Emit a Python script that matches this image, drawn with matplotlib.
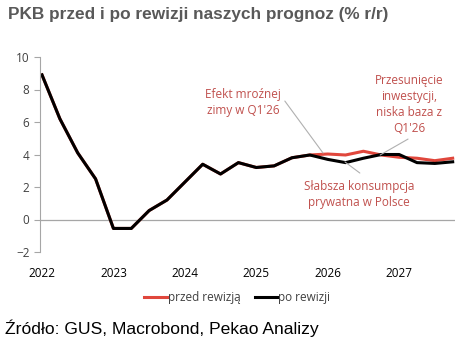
import matplotlib

matplotlib.use("Agg")
import matplotlib.pyplot as plt

# Quarterly GDP y/y, 2022Q1 .. 2027Q4
quarters = list(range(24))
year_labels = ["2022", "2023", "2024", "2025", "2026", "2027"]
po_rewizji = [8.9, 6.2, 4.1, 2.5, -0.55, -0.55, 0.55, 1.2, 2.3, 3.4, 2.8, 3.5,
              3.2, 3.3, 3.8, 3.97, 3.7, 3.5, 3.77, 4.0, 4.0, 3.5, 3.45, 3.55]
przed_rewizja = [8.9, 6.2, 4.1, 2.5, -0.55, -0.55, 0.55, 1.2, 2.3, 3.4, 2.8, 3.5,
                 3.2, 3.3, 3.8, 3.97, 4.03, 3.97, 4.2, 3.97, 3.83, 3.77, 3.62, 3.77]

RED = "#e0473c"
RED_TEXT = "#c0504d"
INK = "#404040"
AXIS = "#a6a6a6"
LEADER = "#b0b0b0"
LABEL_FONT = ["Open Sans", "DejaVu Sans"]

fig = plt.figure(figsize=(4.71, 3.5), dpi=100, facecolor="white")
ax = fig.add_axes([40 / 471, 98 / 350, 415 / 471, 195 / 350])

ax.plot(quarters, przed_rewizja, color=RED, lw=2.2, label="przed rewizją")
ax.plot(quarters, po_rewizji, color="black", lw=2.2, label="po rewizji")
ax.axhline(0, color=AXIS, lw=0.9, zorder=0)

ax.set_xlim(-0.112, 23.13)
ax.set_ylim(-2, 10)
for side in ("top", "right", "bottom"):
    ax.spines[side].set_visible(False)
ax.spines["left"].set_color(AXIS)
ax.set_yticks(range(-2, 11, 2))
ax.tick_params(axis="y", colors=AXIS, labelcolor=INK, length=4, labelsize=8.5)
ax.set_xticks(quarters[::4], year_labels)
ax.tick_params(axis="x", length=0, pad=11, labelcolor="black", labelsize=8.5)
for lab in ax.get_xticklabels() + ax.get_yticklabels():
    lab.set_family(LABEL_FONT)

# comment labels, each with a thin grey leader line drawn separately
note = dict(color=RED_TEXT, fontsize=8.5, family=LABEL_FONT, ha="center",
            va="center", linespacing=1.3)
leader = dict(arrowstyle="-", color=LEADER, lw=0.8, shrinkA=0, shrinkB=0)
ax.text(11.25, 7.23, "Efekt mroźnej\nzimy w Q1'26", **note)
ax.text(20.56, 7.05, "Przesunięcie\ninwestycji,\nniska baza z\nQ1'26", **note)
ax.text(17.75, 1.51, "Słabsza konsumpcja\nprywatna w Polsce", **note)
ax.annotate("", xy=(15.74, 4.09), xytext=(13.6, 7.29), arrowprops=leader)
ax.annotate("", xy=(18.94, 3.97), xytext=(20.5, 4.95), arrowprops=leader)
ax.annotate("", xy=(16.97, 3.54), xytext=(17.8, 2.86), arrowprops=leader)

ax.legend(loc="upper center", bbox_to_anchor=(0.475, -0.145), ncol=2, frameon=False,
          handlelength=1.9, handletextpad=0.1, columnspacing=1.2,
          prop={"family": LABEL_FONT, "size": 8.5}, labelcolor=INK)

fig.text(8 / 471, 1 - 14 / 350, "PKB przed i po rewizji naszych prognoz (% r/r)",
         fontsize=12.4, fontweight="bold", color="#595959",
         family=["Liberation Sans", "DejaVu Sans"], va="center", ha="left")
fig.text(5 / 471, 1 - 328 / 350, "Źródło: GUS, Macrobond, Pekao Analizy",
         fontsize=12.6, color="black", family=["Liberation Sans", "DejaVu Sans"],
         va="center", ha="left")

fig.savefig("out.png", dpi=100, facecolor="white")
